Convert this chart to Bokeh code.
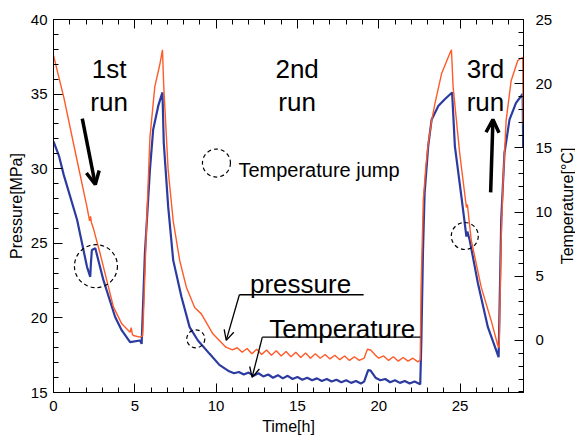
from bokeh.plotting import figure
from bokeh.layouts import row
from bokeh.models import (Range1d, LinearAxis, SingleIntervalTicker, FixedTicker, Label, Arrow,
                          OpenHead, CustomJSTickFormatter)
from bokeh.embed import file_html
from bokeh.resources import INLINE

# ---- data ----
time_p = [0.00, 0.63, 1.45, 2.06, 2.22, 2.28, 2.33, 2.46, 2.87, 3.28, 3.69, 4.20, 4.71, 4.78, 4.85,
          4.91, 5.32, 5.48, 5.52, 5.73, 5.93, 6.23, 6.54, 6.70, 6.78, 7.05, 7.36, 7.76, 8.17, 8.68,
          9.09, 9.80, 10.60, 11.0, 11.3, 11.6, 11.9, 12.2, 12.5, 12.8, 13.1, 13.4, 13.7, 14.0, 14.3,
          14.6, 14.9, 15.2, 15.5, 15.8, 16.1, 16.4, 16.7, 17.0, 17.3, 17.6, 17.9, 18.2, 18.5, 18.8,
          19.1, 19.3, 19.5, 19.8, 20.0, 20.3, 20.6, 20.9, 21.2, 21.5, 21.8, 22.1, 22.4, 22.55, 22.60,
          22.74, 22.90, 23.04, 23.25, 23.45, 23.86, 24.27, 24.47, 24.57, 24.98, 25.39, 25.45, 25.69,
          26.30, 26.91, 27.32, 27.40, 27.52, 27.63, 27.83, 28.14, 28.55, 28.85, 28.88]
pressure = [37.6, 34.8, 30.55, 27.42, 26.5, 26.8, 26.4, 25.97, 24.3, 22.5, 20.72, 19.6, 19.04, 19.35, 18.9,
            18.82, 18.71, 18.8, 19.8, 26.5, 32.1, 35.5, 37.0, 37.97, 35.5, 29.9, 26.5, 23.85, 22.06, 20.7,
            20.27, 18.93, 18.04, 17.85, 18.0, 17.7, 17.95, 17.6, 17.9, 17.55, 17.85, 17.5, 17.8, 17.45, 17.75,
            17.4, 17.7, 17.35, 17.65, 17.3, 17.6, 17.3, 17.55, 17.25, 17.5, 17.2, 17.45, 17.15, 17.4, 17.15,
            17.3, 17.9, 17.85, 17.5, 17.3, 17.45, 17.15, 17.4, 17.1, 17.35, 17.1, 17.3, 17.05, 17.2, 22.0,
            27.9, 30.2, 31.67, 33.2, 34.35, 36.36, 37.47, 37.97, 35.5, 31.0, 27.4, 27.6, 25.19,
            22.06, 19.83, 18.15, 18.0, 25.0, 28.76, 33.2, 35.9, 37.25, 37.47, 33.0]

time_t = [0.00, 0.33, 0.63, 1.45, 2.06, 2.26, 2.30, 2.36, 2.57, 3.07, 3.79, 4.20, 4.71, 5.32, 5.42,
          5.62, 5.93, 6.13, 6.44, 6.70, 6.78, 7.05, 7.36, 7.87, 8.37, 8.88, 9.60, 10.2, 10.8, 11.1,
          11.4, 11.7, 12.0, 12.3, 12.6, 12.9, 13.2, 13.5, 13.8, 14.1, 14.4, 14.7, 15.0, 15.3, 15.6,
          15.9, 16.2, 16.5, 16.8, 17.1, 17.4, 17.7, 18.0, 18.3, 18.6, 18.9, 19.1, 19.35, 19.5, 19.8,
          20.1, 20.4, 20.7, 21.0, 21.3, 21.6, 21.9, 22.2, 22.55, 22.62, 22.72, 22.82, 23.04, 23.25,
          23.66, 24.06, 24.51, 24.68, 25.08, 25.39, 25.45, 25.59, 26.10, 26.71, 27.37, 27.53, 27.73,
          28.04, 28.44, 28.85, 28.88]
temperature = [15.5, 14.4, 12.9, 9.4, 5.74, 4.96, 6.0, 7.05, 7.18, 4.7, 1.83, 0.78, -0.13, 0.0, -0.26,
               6.79, 13.3, 16.44, 18.27, 19.32, 15.4, 10.44, 6.26, 3.39, 1.04, 0.0, -1.04, -1.9, -2.4, -2.55,
               -2.45, -2.65, -2.5, -2.75, -2.55, -2.8, -2.65, -2.9, -2.7, -2.95, -2.75, -3.0, -2.85, -3.05, -2.9,
               -3.1, -2.95, -3.15, -3.0, -3.2, -3.05, -3.25, -3.1, -3.3, -3.15, -3.35, -3.2, -2.3, -2.35, -2.9,
               -3.1, -3.0, -3.25, -3.1, -3.3, -3.15, -3.35, -3.2, -3.4, 0.0, 7.0, 11.5, 15.14, 17.2,
               18.27, 18.79, 19.32, 15.14, 11.22, 8.09, 8.48, 7.83, 4.44, 1.04, -1.3, 9.4, 14.6,
               17.2, 18.5, 19.2, 15.0]

FONT = "Liberation Sans"

p = figure(width=555, height=438, output_backend="svg", toolbar_location=None,
           x_range=Range1d(0, 28.9), y_range=Range1d(15, 40),
           min_border_left=53, min_border_right=29, min_border_top=19, min_border_bottom=46)
p.extra_y_ranges = {"temp": Range1d(-4.05, 25)}
p.grid.visible = False
p.outline_line_color = "black"
p.outline_line_width = 1
p.background_fill_color = "white"
p.border_fill_color = "white"


def style(ax, standoff=6):
    ax.ticker = SingleIntervalTicker(interval=5, num_minor_ticks=5)
    ax.major_tick_in = 9
    ax.major_tick_out = 0
    ax.minor_tick_in = 5
    ax.minor_tick_out = 0
    ax.axis_line_color = "black"
    ax.major_tick_line_color = "black"
    ax.minor_tick_line_color = "black"
    ax.major_label_text_font = FONT
    ax.major_label_text_font_size = "15px"
    ax.major_label_text_color = "black"
    ax.major_label_standoff = standoff
    ax.axis_label_text_font = FONT
    ax.axis_label_text_font_size = "16px"
    ax.axis_label_text_font_style = "normal"
    ax.axis_label_text_color = "black"


xa = p.xaxis[0]
style(xa, 8)
xa.axis_label = "Time[h]"
xa.axis_label_standoff = 4

ya = p.yaxis[0]
style(ya, 6)
ya.axis_label = "Pressure[MPa]"
ya.axis_label_standoff = 3

ra = LinearAxis(y_range_name="temp")
style(ra, 12)
p.add_layout(ra, "right")

ta = LinearAxis()
style(ta, 0)
ta.formatter = CustomJSTickFormatter(code="return ''")
p.add_layout(ta, "above")

# ---- data lines ----
p.line(time_t, temperature, line_color="#2B3BA0", line_width=2.2, y_range_name="temp")
p.line(time_p, pressure, line_color="#FF5A28", line_width=1.4)

# ---- annotations ----
def lab(x, y, text, size="26px", align="center"):
    p.add_layout(Label(x=x, y=y, text=text, text_font=FONT, text_font_size=size,
                       text_align=align, text_baseline="alphabetic", text_color="black"))

lab(3.42, 36.65, "1st"); lab(3.42, 34.44, "run")
lab(14.98, 36.65, "2nd"); lab(14.98, 34.44, "run")
lab(26.56, 36.65, "3rd"); lab(26.56, 34.44, "run")
lab(11.37, 29.88, "Temperature jump", size="20px", align="left")
lab(12.08, 22.29, "pressure", align="left")
lab(13.26, 19.27, "Temperature", align="left")

# thick run arrows
p.add_layout(Arrow(x_start=1.77, y_start=33.36, x_end=2.57, y_end=28.94, line_width=3.5,
                   end=OpenHead(size=13, line_width=3.5, line_color="black")))
p.add_layout(Arrow(x_start=26.88, y_start=28.41, x_end=27.02, y_end=33.3, line_width=3.5,
                   end=OpenHead(size=13, line_width=3.5, line_color="black")))

# underlines and leaders
p.add_layout(Arrow(x_start=11.43, y_start=21.55, x_end=19.07, y_end=21.55, line_width=1.3, end=None))
p.add_layout(Arrow(x_start=11.43, y_start=21.55, x_end=10.62, y_end=18.49, line_width=1.3,
                   end=OpenHead(size=10, line_width=1.3)))
p.add_layout(Arrow(x_start=12.84, y_start=18.71, x_end=22.56, y_end=18.71, line_width=1.3, end=None))
p.add_layout(Arrow(x_start=12.84, y_start=18.71, x_end=12.21, y_end=16.01, line_width=1.3,
                   end=OpenHead(size=10, line_width=1.3)))

# dashed circles
p.scatter(x=[2.61, 8.75, 25.29, 10.02], y=[23.47, 18.60, 25.49, 30.38], size=[43, 18, 27, 28],
          marker="circle", fill_color=None, line_color="black", line_dash="4 3", line_width=1.2)

# ---- narrow side panel carrying the right axis title (reads bottom-to-top) ----
p2 = figure(width=20, height=438, output_backend="svg", toolbar_location=None,
            x_range=Range1d(0, 1), y_range=Range1d(0, 1),
            min_border_left=0, min_border_right=0, min_border_top=19, min_border_bottom=46)
p2.grid.visible = False
p2.xaxis.visible = False
p2.outline_line_color = None
p2.background_fill_color = "white"
p2.border_fill_color = "white"
ay2 = p2.yaxis[0]
ay2.ticker = FixedTicker(ticks=[])
ay2.axis_line_color = None
ay2.major_tick_out = 0
ay2.major_tick_in = 0
ay2.minor_tick_out = 0
ay2.minor_tick_in = 0
ay2.major_label_standoff = 0
ay2.axis_label = "Temperature[°C]"
ay2.axis_label_standoff = 0
ay2.axis_label_text_font = FONT
ay2.axis_label_text_font_size = "16px"
ay2.axis_label_text_font_style = "normal"
ay2.axis_label_text_color = "black"

layout = row(p, p2, spacing=0)
open("out.html", "w").write(file_html(layout, INLINE))
